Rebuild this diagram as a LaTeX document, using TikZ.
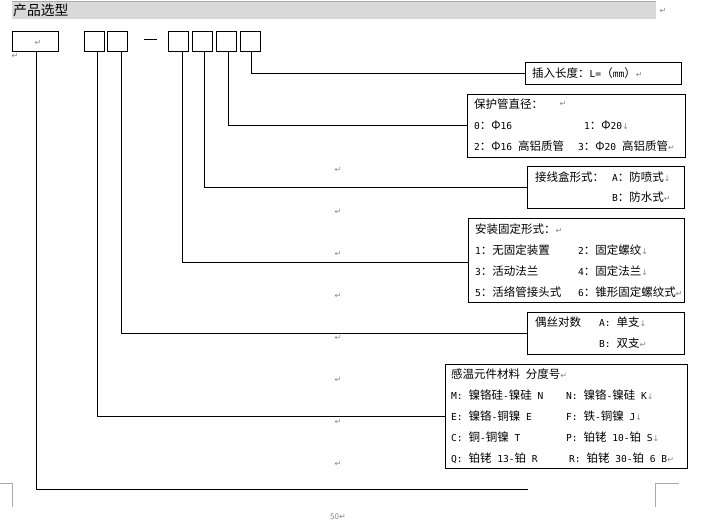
\documentclass[tikz,border=0pt]{standalone}
\usepackage{fontspec}
\setmainfont{Noto Sans CJK SC}
\newfontfamily\symfnt{DejaVu Sans}
\newfontfamily\ascfnt{DejaVu Sans Mono}
\definecolor{hdr}{RGB}{217,217,217}
\definecolor{hdrline}{RGB}{170,170,170}
\definecolor{markgray}{RGB}{135,135,135}
\newcommand\retmk{{\symfnt\color{markgray}\fontsize{8}{8}\selectfont ↵}}
\newcommand\brkmk{{\symfnt\color{markgray}\fontsize{8}{8}\selectfont ↓}}
\newcommand\A[1]{{\ascfnt\fontsize{9.6}{12}\selectfont #1}}
\tikzset{
  selbox/.style={draw, line width=0.9pt, inner sep=0pt, outer sep=0pt, anchor=north west},
  infobox/.style={draw, line width=0.9pt, inner sep=0pt, outer sep=0pt, anchor=north west},
  txt/.style={inner sep=0pt, anchor=west, font=\fontsize{11.5}{12}\selectfont},
  pmark/.style={inner sep=0pt, anchor=center},
  conn/.style={line width=0.9pt},
  cornermk/.style={draw=hdrline, line width=0.8pt}
}
\begin{document}
\begin{tikzpicture}[x=1pt,y=-1pt]
\useasboundingbox (0,0) rectangle (705,521);
% header
\fill[hdr] (12,2) rectangle (656,19);
\draw[hdrline, line width=1pt] (12,1.5) -- (656,1.5);
\node[inner sep=0pt, anchor=west, font=\fontsize{13.8}{14}\selectfont] (title) at (13,10.5) {产品选型};
\node[pmark] (m0) at (663,11) {\retmk};
% selection boxes
\node[selbox, minimum width=46pt, minimum height=20pt] (b0) at (12,31) {};
\node[pmark] (m1) at (38,43) {\retmk};
\node[pmark] (m2) at (15,56) {\retmk};
\node[selbox, minimum width=20pt, minimum height=20pt] (b1) at (84,31) {};
\node[selbox, minimum width=20pt, minimum height=20pt] (b2) at (107,31) {};
\draw[line width=0.9pt] (144,39) -- (157,39);
\node[selbox, minimum width=20pt, minimum height=20pt] (b3) at (168,31) {};
\node[selbox, minimum width=20pt, minimum height=20pt] (b4) at (192,31) {};
\node[selbox, minimum width=20pt, minimum height=20pt] (b5) at (216,31) {};
\node[selbox, minimum width=20pt, minimum height=20pt] (b6) at (240,31) {};
% info boxes
\node[infobox, minimum width=156pt, minimum height=22pt] (r1) at (525,62) {};
\node[txt] (t11) at (532,73) {插入长度：\A{L=}（\A{mm}）\retmk};

\node[infobox, minimum width=218pt, minimum height=63pt] (r2) at (467,94) {};
\node[txt] (t21) at (474,104) {保护管直径：};
\node[pmark] (m21) at (563,104) {\retmk};
\node[txt] (t22) at (474,125) {\A{0}：Φ\A{16}};
\node[txt] (t23) at (584,125) {\A{1}：Φ\A{20}\brkmk};
\node[txt] (t24) at (474,146) {\A{2}：Φ\A{16 }高铝质管};
\node[txt] (t25) at (578,146) {\A{3}：Φ\A{20 }高铝质管\retmk};

\node[infobox, minimum width=157pt, minimum height=42pt] (r3) at (527,166) {};
\node[txt] (t31) at (535,177) {接线盒形式：};
\node[txt] (t32) at (612,177) {\A{A}：防喷式\brkmk};
\node[txt] (t33) at (612,197.5) {\A{B}：防水式\retmk};

\node[infobox, minimum width=216pt, minimum height=84pt] (r4) at (468,218) {};
\node[txt] (t41) at (475,229) {安装固定形式：\retmk};
\node[txt] (t42) at (475,250) {\A{1}：无固定装置};
\node[txt] (t43) at (578,250) {\A{2}：固定螺纹\brkmk};
\node[txt] (t44) at (475,271) {\A{3}：活动法兰};
\node[txt] (t45) at (578,271) {\A{4}：固定法兰\brkmk};
\node[txt] (t46) at (475,292) {\A{5}：活络管接头式};
\node[txt] (t47) at (578,292) {\A{6}：锥形固定螺纹式\retmk};

\node[infobox, minimum width=157pt, minimum height=42pt] (r5) at (527,312) {};
\node[txt] (t51) at (535,322.5) {偶丝对数};
\node[txt] (t52) at (599,322.5) {\A{A: }单支\brkmk};
\node[txt] (t53) at (599,343.5) {\A{B: }双支\retmk};

\node[infobox, minimum width=242pt, minimum height=104pt] (r6) at (445,364) {};
\node[txt] (t61) at (451,374.5) {感温元件材料\A{ }分度号\retmk};
\node[txt] (t62) at (451,395.5) {\A{M: }镍铬硅\A{-}镍硅\A{ N}};
\node[txt] (t63) at (566,395.5) {\A{N: }镍铬\A{-}镍硅\A{ K}\brkmk};
\node[txt] (t64) at (451,416) {\A{E: }镍铬\A{-}铜镍\A{ E}};
\node[txt] (t65) at (566,416) {\A{F: }铁\A{-}铜镍\A{ J}\brkmk};
\node[txt] (t66) at (451,437) {\A{C: }铜\A{-}铜镍\A{ T}};
\node[txt] (t67) at (566,437) {\A{P: }铂铑\A{ 10-}铂\A{ S}\brkmk};
\node[txt] (t68) at (451,458) {\A{Q: }铂铑\A{ 13-}铂\A{ R}};
\node[txt] (t69) at (569,458) {\A{R: }铂铑\A{ 30-}铂\A{ 6 B}\retmk};
% connectors
\coordinate (bend) at (528,489);
\draw[conn] ([xshift=1pt]b0.south) |- (bend);
\draw[conn] ([xshift=3pt]b1.south) |- (r6.west);
\draw[conn] ([xshift=4pt]b2.south) |- (r5.west);
\draw[conn] ([xshift=4pt]b3.south) |- ([yshift=-2pt]r4.west);
\draw[conn] ([xshift=2pt]b4.south) |- (r3.west);
\draw[conn] ([xshift=2pt]b5.south) |- (r2.west);
\draw[conn] ([xshift=1pt]b6.south) |- (r1.west);
% paragraph marks
\foreach \yy [count=\i] in {170,212,254,296,338,380,422,464}
  \node[pmark] (pm\i) at (338,\yy) {\retmk};
% page corner marks
\draw[cornermk] (0,483) -- (12,483) -- (12,507);
\draw[cornermk] (679,483) -- (655,483) -- (655,507);
\node[inner sep=0pt, anchor=center, font=\fontsize{8}{8}\selectfont, text=markgray] (pg) at (338,517) {50\retmk};
\end{tikzpicture}
\end{document}
